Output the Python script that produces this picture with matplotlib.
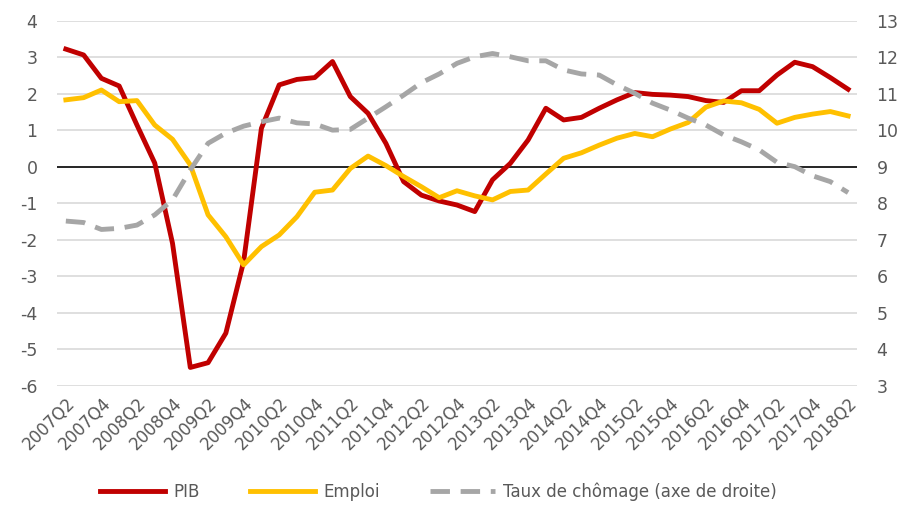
import matplotlib
matplotlib.use("Agg")
import matplotlib.pyplot as plt
import numpy as np

# trimestres 2007Q2 -> 2018Q2
trimestres = []
for an in range(2007, 2019):
    for q in range(1, 5):
        lab = "%dQ%d" % (an, q)
        if (an == 2007 and q < 2) or (an == 2018 and q > 2):
            continue
        trimestres.append(lab)

pib = [3.22, 3.06, 2.42, 2.21, 1.14, 0.1, -2.1, -5.5, -5.37, -4.56,
       -2.6, 1.05, 2.24, 2.39, 2.44, 2.88, 1.92, 1.46, 0.64, -0.41,
       -0.78, -0.94, -1.05, -1.23, -0.36, 0.09, 0.73, 1.6, 1.28, 1.35,
       1.6, 1.83, 2.03, 1.98, 1.96, 1.92, 1.81, 1.76, 2.08, 2.08,
       2.51, 2.86, 2.74, 2.44, 2.12]

emploi = [1.83, 1.89, 2.1, 1.78, 1.81, 1.14, 0.75, 0.05, -1.32, -1.92,
          -2.69, -2.19, -1.87, -1.37, -0.7, -0.64, -0.05, 0.29, 0.03, -0.27,
          -0.55, -0.85, -0.66, -0.8, -0.91, -0.68, -0.64, -0.2, 0.23, 0.38,
          0.59, 0.78, 0.91, 0.82, 1.03, 1.21, 1.63, 1.8, 1.75, 1.57,
          1.19, 1.35, 1.44, 1.51, 1.39]

chomage = [7.51, 7.47, 7.28, 7.31, 7.4, 7.68, 8.09, 8.91, 9.64, 9.92,
           10.11, 10.23, 10.33, 10.2, 10.17, 10.0, 10.02, 10.33, 10.64, 10.96,
           11.3, 11.54, 11.83, 12.01, 12.1, 12.01, 11.9, 11.9, 11.65, 11.54,
           11.51, 11.24, 11.01, 10.74, 10.55, 10.33, 10.14, 9.87, 9.68, 9.46,
           9.12, 9.0, 8.75, 8.59, 8.29]

rouge = "#C00000"
jaune = "#FFC000"
gris = "#A6A6A6"
texte = "#595959"

plt.rcParams['font.family'] = ['DejaVu Sans']
plt.rcParams['axes.unicode_minus'] = False
fig = plt.figure(figsize=(9.04, 5.16), dpi=100)
ax = fig.add_axes([0.063, 0.2525, 0.885, 0.7075])
ax2 = ax.twinx()

x = np.arange(len(trimestres))

for y in range(-6, 5):
    if y != 0:
        ax.axhline(y, color="#D9D9D9", lw=1.2, zorder=0)
ax.axhline(0, color="black", lw=1.2, zorder=1)

l1, = ax.plot(x, pib, color=rouge, lw=3.5, label="PIB", zorder=3)
l2, = ax.plot(x, emploi, color=jaune, lw=3.5, label="Emploi", zorder=3)
l3, = ax2.plot(x, chomage, color=gris, lw=3.5, ls=(0, (4, 2.2)),
               label="Taux de chômage (axe de droite)", zorder=2)

ax.set_xlim(-0.5, len(trimestres) - 0.5)
ax.set_ylim(-6, 4)
ax2.set_ylim(3, 13)
ax.set_yticks(range(-6, 5))
ax2.set_yticks(range(3, 14))
ax.set_xticks(x[::2])
ax.set_xticklabels(trimestres[::2], rotation=45, ha="right",
                   rotation_mode="anchor")

for a in (ax, ax2):
    for s in a.spines.values():
        s.set_visible(False)
    a.tick_params(length=0, labelsize=12.5, colors=texte)
ax.tick_params(axis="x", labelsize=12)
ax.tick_params(axis="y", pad=14)
ax2.tick_params(axis="y", pad=14)
ax.tick_params(axis="x", pad=6)

fig.legend(handles=[l1, l2, l3], loc="lower center", ncol=3,
           bbox_to_anchor=(0.485, 0.0), frameon=False, fontsize=12,
           labelcolor=texte, handlelength=3.9, columnspacing=3.0,
           handletextpad=0.5)

fig.savefig("out.png", dpi=100)
